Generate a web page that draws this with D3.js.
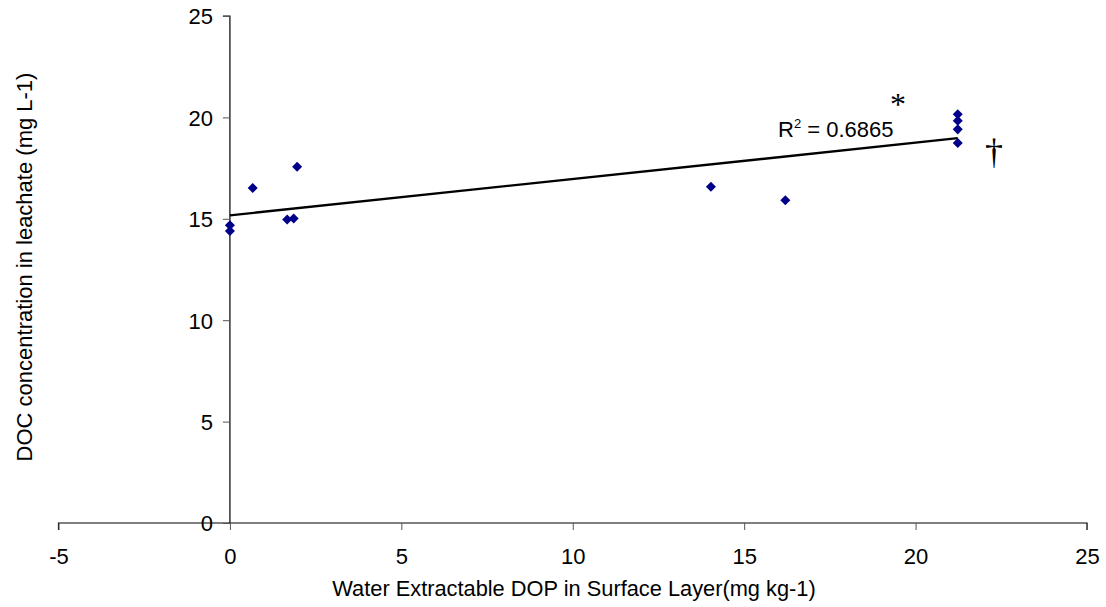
<!DOCTYPE html>
<html>
<head>
<meta charset="utf-8">
<script src="https://cdn.jsdelivr.net/npm/d3@7"></script>
<style>
  body { margin: 0; background: #fff; }
  text { font-family: "Liberation Sans", Arial, sans-serif; }
</style>
</head>
<body>
<div id="chart"></div>
<script>
// data
var dopValues = [0, 0, 0.665, 1.67, 1.86, 1.96, 14.03, 16.2, 21.23, 21.23, 21.23, 21.23];
var docValues = [14.68, 14.40, 16.52, 14.96, 15.02, 17.57, 16.58, 15.91, 20.15, 19.84, 19.41, 18.74];
var xTicks = [-5, 0, 5, 10, 15, 20, 25];
var yTicks = [0, 5, 10, 15, 20, 25];

var width = 1106, height = 607;

var svg = d3.select("#chart")
    .append("svg")
    .attr("width", width)
    .attr("height", height);

// scales
var xScale = d3.scaleLinear().domain([-5, 25]).range([58.5, 1087]);
var yScale = d3.scaleLinear().domain([0, 25]).range([523, 16]);

// axes
var xAxis = d3.axisBottom(xScale).tickValues(xTicks).tickSize(7).tickFormat(function(d) { return String(d); });
var yAxis = d3.axisLeft(yScale).tickValues(yTicks).tickSize(7).tickFormat(function(d) { return String(d); });

var gx = svg.append("g")
    .attr("transform", "translate(0," + yScale(0) + ")")
    .call(xAxis);
var gy = svg.append("g")
    .attr("transform", "translate(" + xScale(0) + ",0)")
    .call(yAxis);

svg.selectAll(".domain").attr("stroke", "#000").attr("stroke-width", 1.2);
svg.selectAll(".tick line").attr("stroke", "#555");
svg.selectAll(".tick text")
    .style("font-size", "22px")
    .attr("fill", "#000");
gx.select(".domain").attr("d", "M" + xScale(-5) + ",7V0H" + xScale(25) + "V7");
gy.select(".domain").attr("d", "M-7," + yScale(25) + "H0V" + yScale(0));
gy.selectAll(".tick text").attr("x", -17).attr("dy", "0.36em");
gx.selectAll(".tick text").attr("y", 41).attr("dy", 0);

// axis titles
svg.append("text")
    .attr("x", 574)
    .attr("y", 596)
    .attr("text-anchor", "middle")
    .style("font-size", "21.8px")
    .text("Water Extractable DOP in Surface Layer(mg kg-1)");

svg.append("text")
    .attr("transform", "translate(32,267) rotate(-90)")
    .attr("text-anchor", "middle")
    .style("font-size", "22px")
    .text("DOC concentration in leachate (mg L-1)");

// linear trend line from the data
var n = dopValues.length;
var mx = d3.mean(dopValues), my = d3.mean(docValues);
var sxy = 0, sxx = 0;
for (var i = 0; i < n; i++) {
    sxy += (dopValues[i] - mx) * (docValues[i] - my);
    sxx += (dopValues[i] - mx) * (dopValues[i] - mx);
}
var slope = sxy / sxx;
var intercept = my - slope * mx;

var x0 = d3.min(dopValues), x1 = d3.max(dopValues);
svg.append("line")
    .attr("x1", xScale(x0))
    .attr("y1", yScale(intercept + slope * x0))
    .attr("x2", xScale(x1))
    .attr("y2", yScale(intercept + slope * x1))
    .attr("stroke", "#000")
    .attr("stroke-width", 2.4);

// points (diamonds)
svg.selectAll(".point")
    .data(d3.range(n))
    .enter().append("path")
    .attr("class", "point")
    .attr("d", d3.symbol().type(d3.symbolDiamond2).size(64))
    .attr("transform", function(i) {
        return "translate(" + xScale(dopValues[i]) + "," + yScale(docValues[i]) + ")";
    })
    .attr("fill", "#00008b");

// R² label
var rLabel = svg.append("text")
    .attr("x", 778)
    .attr("y", 137)
    .style("font-size", "22px");
rLabel.append("tspan").text("R");
rLabel.append("tspan").attr("dy", -9).style("font-size", "13px").text("2");
rLabel.append("tspan").attr("dy", 9).text(" = 0.6865");

// significance marks
svg.append("text")
    .attr("x", 898)
    .attr("y", 115)
    .attr("text-anchor", "middle")
    .style("font-family", "'Liberation Serif', serif")
    .style("font-size", "32px")
    .text("*");

svg.append("text")
    .attr("x", 994)
    .attr("y", 164)
    .attr("text-anchor", "middle")
    .style("font-family", "'Liberation Serif', serif")
    .style("font-size", "36px")
    .text("†");
</script>
</body>
</html>
